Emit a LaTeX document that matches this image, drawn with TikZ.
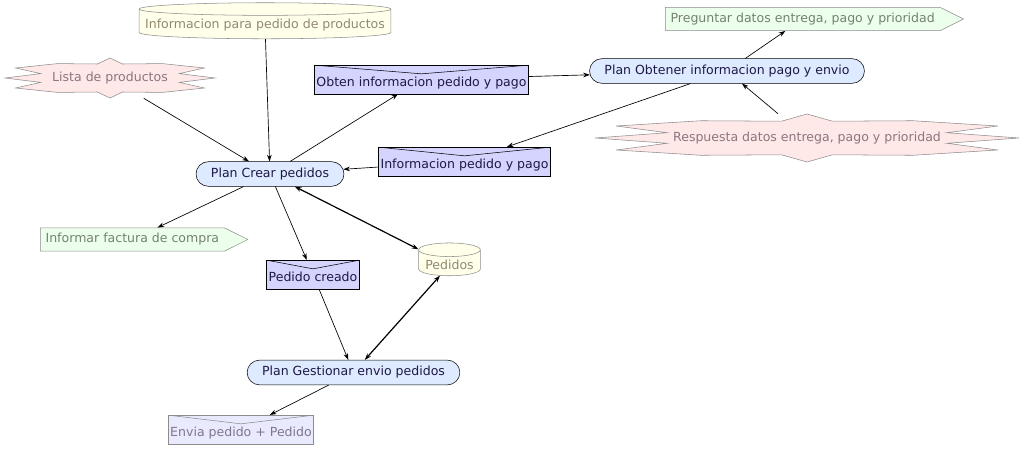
\documentclass[tikz,border=0pt]{standalone}
\usepackage{fontspec}
\setmainfont{DejaVu Sans}
\usetikzlibrary{shapes.geometric,shapes.symbols,shapes.misc,arrows.meta,calc}

\definecolor{planfill}{RGB}{222,234,255}
\definecolor{msgfill}{RGB}{212,212,255}
\definecolor{msgpale}{RGB}{234,234,255}
\definecolor{dbfill}{RGB}{255,255,234}
\definecolor{burstfill}{RGB}{255,232,232}
\definecolor{sigfill}{RGB}{236,255,236}
\definecolor{darktext}{RGB}{30,25,70}
\definecolor{dbtext}{RGB}{145,138,112}
\definecolor{bursttext}{RGB}{140,118,128}
\definecolor{sigtext}{RGB}{118,128,118}
\definecolor{paletext}{RGB}{128,118,140}
\definecolor{palegray}{RGB}{140,140,140}

\tikzset{
  base/.style={font=\fontsize{9.4}{11}\selectfont, inner sep=2pt},
  plan/.style={base, rounded rectangle, draw=black, fill=planfill, text=darktext,
    minimum height=18.5pt, inner xsep=10pt},
  envelope/.style={base, rectangle, draw=black, fill=msgfill, text=darktext,
    text height=13pt, text depth=2.5pt, inner ysep=3pt, inner xsep=1.5pt,
    path picture={\draw (path picture bounding box.north west)
      -- ($(path picture bounding box.north)+(0,-6.5pt)$)
      -- (path picture bounding box.north east);}},
  paleenvelope/.style={envelope, draw=palegray, fill=msgpale, text=paletext,
    path picture={\draw[palegray] (path picture bounding box.north west)
      -- ($(path picture bounding box.north)+(0,-6.5pt)$)
      -- (path picture bounding box.north east);}},
  store/.style={base, cylinder, shape border rotate=90, shape aspect=#1,
    draw=palegray, fill=dbfill, text=dbtext, inner xsep=3pt, inner ysep=1pt},
  outmsg/.style={base, signal, signal to=east, signal pointer angle=53,
    draw=palegray, fill=sigfill, text=sigtext, minimum height=17.5pt, inner xsep=4pt},
  burstnode/.style={base, rectangle, text=bursttext},
  link/.style={-{Stealth[length=5pt,width=3.5pt]}, line width=0.5pt},
  duallink/.style={{Stealth[length=5pt,width=3.5pt]}-{Stealth[length=5pt,width=3.5pt]}, line width=0.9pt},
  pics/burst/.style 2 args={code={
    \draw[palegray, fill=burstfill, xscale=#1, yscale=#2]
      (1,0) -- (0.66,-0.22) -- (0.9,-0.5) -- (0.5,-0.72) -- (0.12,-0.7) -- (0,-1)
      -- (-0.12,-0.7) -- (-0.5,-0.72) -- (-0.9,-0.5) -- (-0.66,-0.22) -- (-1,0)
      -- (-0.66,0.22) -- (-0.9,0.5) -- (-0.5,0.72) -- (-0.12,0.7) -- (0,1)
      -- (0.12,0.7) -- (0.5,0.72) -- (0.9,0.5) -- (0.66,0.22) -- cycle;}}
}

\begin{document}
\begin{tikzpicture}[x=0.75pt, y=-0.75pt]
  \useasboundingbox (0,0) rectangle (1025,450);
  % Star shaped events
  \pic at (110,78) {burst={105}{20}};
  \pic at (807,138) {burst={212}{24}};
  % Plans
  \node[plan] (crear) at (270,174) {Plan Crear pedidos};
  \node[plan] (obtener) at (727,71) {Plan Obtener informacion pago y envio};
  \node[plan] (gestionar) at (353.5,372.5) {Plan Gestionar envio pedidos};
  % Data stores
  \node[store=0.05, inner xsep=4.5pt, inner ysep=2.5pt] (infoped) at (265,25) {Informacion para pedido de productos};
  \node[store=0.22, inner xsep=5pt, inner ysep=2.5pt] (pedidos) at (449.5,265) {Pedidos};
  % Events
  \node[burstnode, minimum width=157pt, minimum height=30pt] (lista) at (110,78) {Lista de productos};
  \node[burstnode, minimum width=318pt, minimum height=36pt] (respuesta) at (807,138) {Respuesta datos entrega, pago y prioridad};
  % Messages
  \node[envelope] (obten) at (421.5,79.5) {Obten informacion pedido y pago};
  \node[envelope] (infopago) at (464.5,161.5) {Informacion pedido y pago};
  \node[envelope] (pedcreado) at (313,274.5) {Pedido creado};
  \node[paleenvelope] (envia) at (241,429.5) {Envia pedido + Pedido};
  % Outgoing messages
  \node[outmsg, anchor=west] (preguntar) at (665,19) {Preguntar datos entrega, pago y prioridad};
  \node[outmsg, anchor=west] (factura) at (40,239.5) {Informar factura de compra};
  % Connectors
  \draw[link] (lista) -- (crear);
  \draw[link] (infoped) -- (crear);
  \draw[link] (crear) -- (obten);
  \draw[link] (obten) -- (obtener);
  \draw[link] (obtener) -- (preguntar);
  \draw[link] (respuesta) -- (obtener);
  \draw[link] (obtener) -- (infopago);
  \draw[link] (infopago) -- (crear);
  \draw[link] (crear) -- (factura);
  \draw[link] (crear) -- (pedcreado);
  \draw[link] (pedcreado) -- (gestionar);
  \draw[link] (gestionar) -- (envia);
  \draw[duallink] (crear) -- (pedidos);
  \draw[duallink] (pedidos) -- (gestionar);
\end{tikzpicture}
\end{document}
